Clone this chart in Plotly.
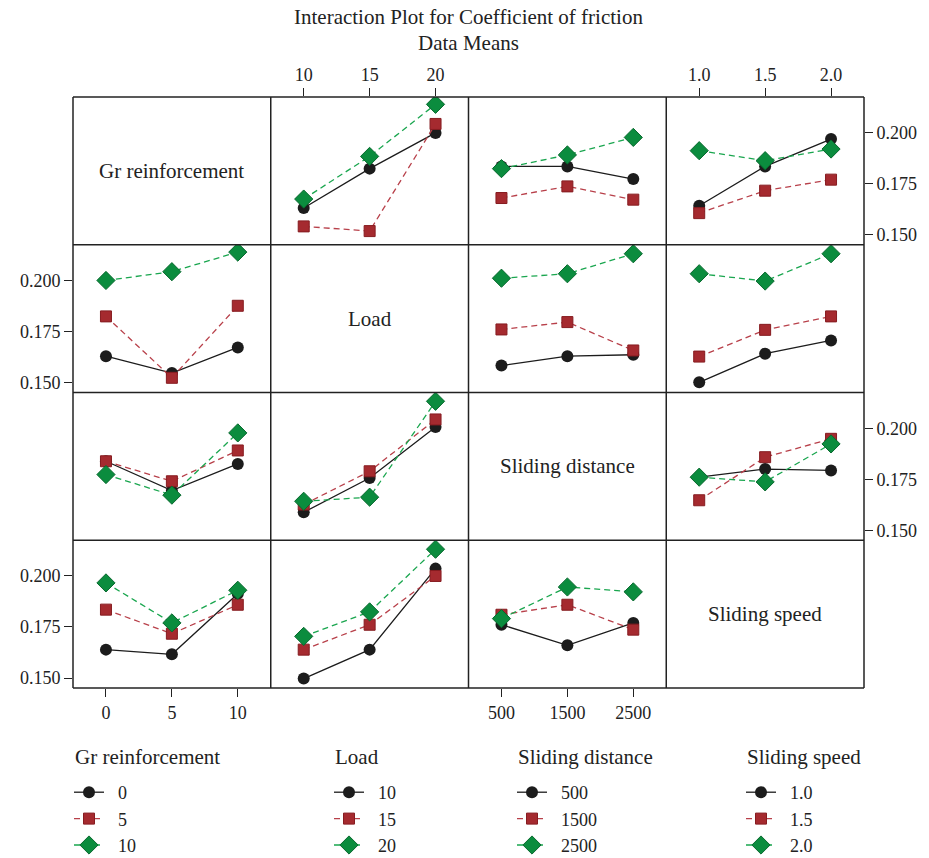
import plotly.graph_objects as go
from plotly.subplots import make_subplots

# ---------------- data ----------------
factor_names = ["Gr reinforcement", "Load", "Sliding distance", "Sliding speed"]
gr_levels = ["0", "5", "10"]
load_levels = ["10", "15", "20"]
dist_levels = ["500", "1500", "2500"]
speed_levels = ["1.0", "1.5", "2.0"]
y_tick_vals = [0.150, 0.175, 0.200]
y_tick_text = ["0.150", "0.175", "0.200"]

# rows of each table = levels of the trace factor, columns = levels of the x factor
gr_vs_load = [[0.1631, 0.1824, 0.1999], [0.1541, 0.1518, 0.2043], [0.1675, 0.1884, 0.2139]]
gr_vs_dist = [[0.1835, 0.1835, 0.1773], [0.1680, 0.1737, 0.1672], [0.1824, 0.1891, 0.1977]]
gr_vs_speed = [[0.1642, 0.1835, 0.1969], [0.1606, 0.1716, 0.1770], [0.1912, 0.1863, 0.1920]]

load_vs_gr = [[0.1629, 0.1546, 0.1672], [0.1824, 0.1523, 0.1876], [0.2000, 0.2043, 0.2139]]
load_vs_dist = [[0.1583, 0.1629, 0.1636], [0.1760, 0.1796, 0.1657], [0.2011, 0.2033, 0.2131]]
load_vs_speed = [[0.1501, 0.1641, 0.1706], [0.1627, 0.1758, 0.1824], [0.2033, 0.1997, 0.2131]]

dist_vs_gr = [[0.1838, 0.1694, 0.1825], [0.1838, 0.1740, 0.1891], [0.1773, 0.1672, 0.1977]]
dist_vs_load = [[0.1588, 0.1756, 0.2006], [0.1626, 0.1789, 0.2043], [0.1642, 0.1662, 0.2132]]
dist_vs_speed = [[0.1760, 0.1800, 0.1793], [0.1647, 0.1858, 0.1948], [0.1760, 0.1737, 0.1923]]

speed_vs_gr = [[0.1639, 0.1616, 0.1913], [0.1835, 0.1717, 0.1859], [0.1966, 0.1770, 0.1930]]
speed_vs_load = [[0.1497, 0.1639, 0.2036], [0.1639, 0.1761, 0.2000], [0.1704, 0.1824, 0.2131]]
speed_vs_dist = [[0.1761, 0.1660, 0.1770], [0.1810, 0.1859, 0.1737], [0.1791, 0.1946, 0.1922]]

# ---------------- structure ----------------
levels = [gr_levels, load_levels, dist_levels, speed_levels]
panels = {
    (0, 1): gr_vs_load, (0, 2): gr_vs_dist, (0, 3): gr_vs_speed,
    (1, 0): load_vs_gr, (1, 2): load_vs_dist, (1, 3): load_vs_speed,
    (2, 0): dist_vs_gr, (2, 1): dist_vs_load, (2, 3): dist_vs_speed,
    (3, 0): speed_vs_gr, (3, 1): speed_vs_load, (3, 2): speed_vs_dist,
}

FONT = "Liberation Serif, Times New Roman, serif"
INK = "#222222"
BLACK = "#1c1c1c"
RED, RED_EDGE, RED_LINE = "#a52a2f", "#861c20", "#b8404a"
GREEN, GREEN_EDGE, GREEN_LINE = "#0b8c3e", "#08692e", "#1aa64f"

W, H = 929, 858
ML, MR, MT, MB = 73, 65, 97, 170
PW, PH = W - ML - MR, H - MT - MB

styles = [
    dict(line=dict(color=BLACK, width=1.3),
         marker=dict(symbol="circle", size=12, color=BLACK, line=dict(width=0))),
    dict(line=dict(color=RED_LINE, width=1.3, dash="6px,4px"),
         marker=dict(symbol="square", size=11, color=RED, line=dict(color=RED_EDGE, width=1))),
    dict(line=dict(color=GREEN_LINE, width=1.3, dash="6px,4px"),
         marker=dict(symbol="diamond", size=14, color=GREEN, line=dict(color=GREEN_EDGE, width=1))),
]
legend_names = ["legend", "legend2", "legend3", "legend4"]
GAP = "\u00a0\u00a0"

fig = make_subplots(rows=4, cols=4, horizontal_spacing=0, vertical_spacing=0)

for (r, c), table in panels.items():
    first_in_row = (c == 0) or (r == 0 and c == 1)
    for k, yvals in enumerate(table):
        fig.add_trace(go.Scatter(
            x=levels[c], y=yvals, mode="lines+markers",
            name=GAP + levels[r][k], legend=legend_names[r],
            showlegend=first_in_row, **styles[k]),
            row=r + 1, col=c + 1)

x_tick_sides = {(0, 1): "top", (0, 3): "top", (3, 0): "bottom", (3, 2): "bottom"}
y_tick_sides = {(0, 3): "right", (2, 3): "right", (1, 0): "left", (3, 0): "left"}

for r in range(4):
    for c in range(4):
        xs = x_tick_sides.get((r, c))
        ys = y_tick_sides.get((r, c))
        fig.update_xaxes(
            type="category", range=[-0.5, 2.5], showgrid=False, zeroline=False,
            showline=False,
            ticks="outside" if xs else "", ticklen=8, tickcolor=INK, tickwidth=1.2,
            showticklabels=bool(xs), side=xs or "bottom",
            tickfont=dict(family=FONT, size=18, color=INK),
            fixedrange=True, row=r + 1, col=c + 1)
        fig.update_yaxes(
            range=[0.1451, 0.2175], showgrid=False, zeroline=False,
            showline=False,
            tickvals=y_tick_vals, ticktext=y_tick_text,
            ticks="outside" if ys else "", ticklen=8, tickcolor=INK, tickwidth=1.2,
            showticklabels=bool(ys), side=ys or "left",
            tickfont=dict(family=FONT, size=18, color=INK),
            fixedrange=True, row=r + 1, col=c + 1)

# grid frame
for i in range(5):
    fig.add_shape(type="line", xref="paper", yref="paper", x0=i / 4, x1=i / 4, y0=0, y1=1,
                  line=dict(color=INK, width=1.5))
    fig.add_shape(type="line", xref="paper", yref="paper", x0=0, x1=1, y0=i / 4, y1=i / 4,
                  line=dict(color=INK, width=1.5))

# diagonal labels
for i, name in enumerate(factor_names):
    fig.add_annotation(text=name, xref="paper", yref="paper",
                       x=(i + 0.5) / 4, y=1 - (i + 0.5) / 4, showarrow=False,
                       xanchor="center", yanchor="middle",
                       font=dict(family=FONT, size=21, color=INK))

def py(px):  # page pixel row -> paper y
    return (H - MB - px) / PH

def pxx(px):  # page pixel column -> paper x
    return (px - ML) / PW

# titles
fig.add_annotation(text="Interaction Plot for Coefficient of friction", xref="paper", yref="paper",
                   x=0.5, y=py(17), showarrow=False, xanchor="center", yanchor="middle",
                   font=dict(family=FONT, size=21, color=INK))
fig.add_annotation(text="Data Means", xref="paper", yref="paper",
                   x=0.5, y=py(43), showarrow=False, xanchor="center", yanchor="middle",
                   font=dict(family=FONT, size=21, color=INK))

legend_px = [73, 333, 516, 745]
legend_layout = {}
for i, ln in enumerate(legend_names):
    fig.add_annotation(text=factor_names[i], xref="paper", yref="paper",
                       x=pxx(legend_px[i]), y=py(757), xanchor="left", yanchor="middle",
                       showarrow=False, font=dict(family=FONT, size=21, color=INK))
    legend_layout[ln] = dict(
        xref="container", yref="container",
        x=(legend_px[i] - 4) / W, y=1 - 774 / H, xanchor="left", yanchor="top",
        font=dict(family=FONT, size=18, color=INK),
        bgcolor="rgba(0,0,0,0)", borderwidth=0, itemwidth=30,
        tracegroupgap=0)

fig.update_layout(
    width=W, height=H,
    margin=dict(l=ML, r=MR, t=MT, b=MB, autoexpand=False),
    paper_bgcolor="white", plot_bgcolor="white",
    font=dict(family=FONT, size=17, color=INK),
    **legend_layout,
)

fig.write_html("out.html", config={"displayModeBar": False},
               post_script="document.body.style.margin='0';document.body.style.overflow='hidden';")
